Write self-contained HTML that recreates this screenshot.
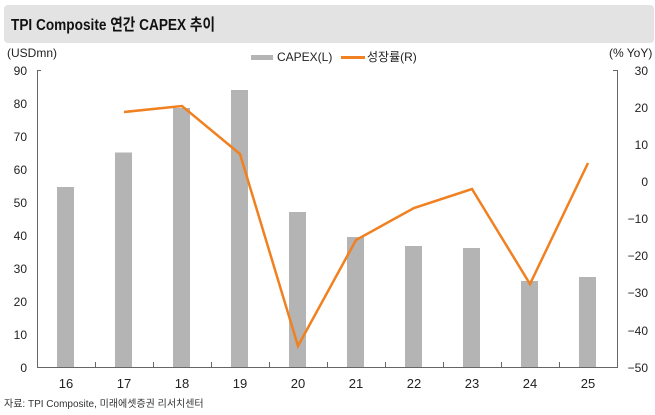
<!DOCTYPE html>
<html><head><meta charset="utf-8"><style>
body{margin:0;background:#fff;width:655px;height:410px;overflow:hidden;font-family:"Liberation Sans","Noto Sans CJK KR",sans-serif}
</style></head><body>
<svg width="655" height="410" xmlns="http://www.w3.org/2000/svg" font-family="'Liberation Sans','Noto Sans CJK KR',sans-serif">
<rect x="4" y="5" width="650" height="38" rx="4" fill="#e3e3e3"/>
<text x="11" y="30" font-size="16" fill="#111" font-weight="bold" textLength="204" lengthAdjust="spacingAndGlyphs">TPI Composite 연간 CAPEX 추이</text>
<text x="7" y="57" font-size="12" fill="#222">(USDmn)</text>
<text x="609" y="57" font-size="12" fill="#222">(% YoY)</text>
<rect x="251" y="55" width="22" height="5" fill="#b4b4b4"/>
<text x="277" y="61" font-size="12" fill="#222">CAPEX(L)</text>
<rect x="341" y="56" width="24" height="3" fill="#f08020"/>
<text x="367" y="61" font-size="12" fill="#222">성장률(R)</text>
<g font-size="12" fill="#222" text-anchor="end">
<text x="27" y="75">90</text><text x="27" y="108">80</text><text x="27" y="141">70</text><text x="27" y="174">60</text><text x="27" y="207">50</text><text x="27" y="240">40</text><text x="27" y="273">30</text><text x="27" y="306">20</text><text x="27" y="339">10</text><text x="27" y="372">0</text>
</g>
<g font-size="12" fill="#222" text-anchor="end">
<text x="648" y="75">30</text><text x="648" y="112">20</text><text x="648" y="149">10</text><text x="648" y="186">0</text><text x="648" y="223">−10</text><text x="648" y="260">−20</text><text x="648" y="297">−30</text><text x="648" y="335">−40</text><text x="648" y="372">−50</text>
</g>
<g fill="#b4b4b4">
<rect x="57" y="187" width="17" height="180"/>
<rect x="115" y="152.5" width="17" height="214.5"/>
<rect x="173" y="108" width="17" height="259"/>
<rect x="231" y="90" width="17" height="277"/>
<rect x="289" y="212" width="17" height="155"/>
<rect x="347" y="237" width="17" height="130"/>
<rect x="405" y="246" width="17" height="121"/>
<rect x="463" y="248" width="17" height="119"/>
<rect x="521" y="281" width="17" height="86"/>
<rect x="579" y="277" width="17" height="90"/>
</g>
<polyline fill="none" stroke="#f08020" stroke-width="2.5" points="124,112 182,106 240,154 298,346 356,240 414,208 472,189 530,284 588,163"/>
<g stroke="#666" stroke-width="1" fill="none">
<line x1="37.5" y1="70" x2="37.5" y2="367.5"/>
<line x1="617.5" y1="70" x2="617.5" y2="367.5"/>
<line x1="37" y1="367.5" x2="618" y2="367.5"/>
<line x1="37" y1="70.5" x2="41" y2="70.5"/>
<line x1="613" y1="70.5" x2="618" y2="70.5"/>
<path d="M95.5 367v-5M153.5 367v-5M211.5 367v-5M269.5 367v-5M327.5 367v-5M385.5 367v-5M443.5 367v-5M501.5 367v-5M559.5 367v-5"/>
</g>
<g font-size="13" fill="#222" text-anchor="middle">
<text x="66" y="388">16</text><text x="124" y="388">17</text><text x="182" y="388">18</text><text x="240" y="388">19</text><text x="298" y="388">20</text><text x="356" y="388">21</text><text x="414" y="388">22</text><text x="472" y="388">23</text><text x="530" y="388">24</text><text x="588" y="388">25</text>
</g>
<text x="4" y="407" font-size="10" fill="#333">자료: TPI Composite, 미래에셋증권 리서치센터</text>
</svg>
</body></html>
